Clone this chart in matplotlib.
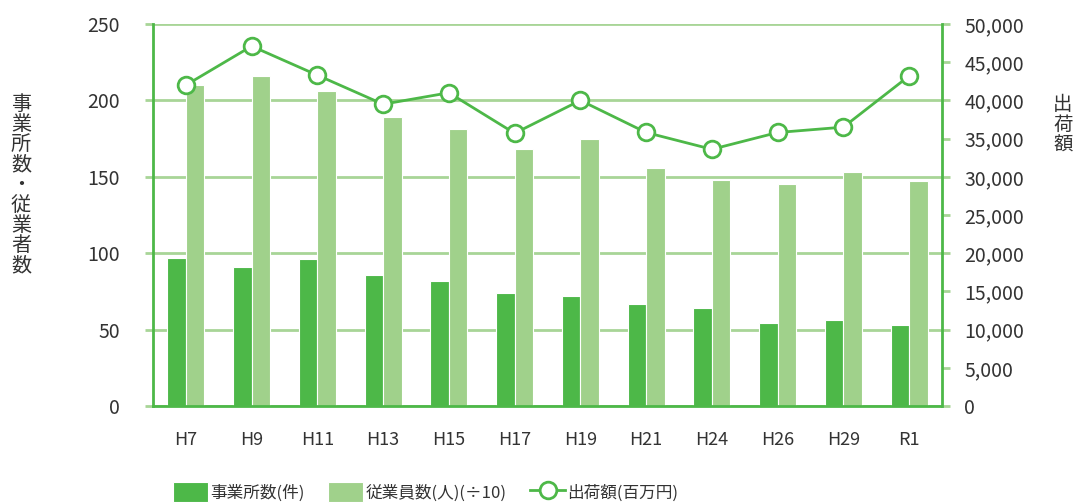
import matplotlib
matplotlib.use('Agg')
import matplotlib.pyplot as plt
import numpy as np
from matplotlib.ticker import FuncFormatter

plt.rcParams['font.family'] = ['Noto Sans CJK JP', 'DejaVu Sans']

years = ['H7', 'H9', 'H11', 'H13', 'H15', 'H17', 'H19', 'H21', 'H24', 'H26', 'H29', 'R1']
establishments = [97, 91, 96, 86, 82, 74, 72, 67, 64, 54, 56, 53]
employees_div10 = [210, 216, 206, 189, 181, 168, 175, 156, 148, 145, 153, 147]
shipments = [42000, 47100, 43300, 39500, 41000, 35700, 40000, 35800, 33600, 35800, 36500, 43200]

dark = '#4db848'
light = '#a0d18b'
grid_c = '#a8d597'
txt = '#333333'

fig = plt.figure(figsize=(10.74, 5.03), dpi=100)
ax = fig.add_axes([153 / 1074, 1 - 406 / 503, (942 - 153) / 1074, (406 - 24) / 503])
ax2 = ax.twinx()

x = np.arange(len(years))
w = 0.28
ax.bar(x - w / 2, establishments, w, color=dark, edgecolor='white', linewidth=0.8, zorder=2,
       label='事業所数(件)')
ax.bar(x + w / 2, employees_div10, w, color=light, edgecolor='white', linewidth=0.8, zorder=2,
       label='従業員数(人)(÷10)')
ax2.plot(x, shipments, color=dark, lw=2, marker='o', ms=12, mfc='white', mec=dark, mew=2,
         zorder=3, label='出荷額(百万円)')

ax.set_xlim(-0.5, len(years) - 0.5)
ax.set_ylim(0, 250)
ax2.set_ylim(0, 50000)
ax.set_yticks(range(0, 251, 50))
ax2.set_yticks(range(0, 50001, 5000))
ax2.yaxis.set_major_formatter(FuncFormatter(lambda v, p: f'{int(v):,}'))

ax.yaxis.grid(True, color=grid_c, lw=2, zorder=0)
ax.set_axisbelow(True)
ax.set_xticks(x)
ax.set_xticklabels(years)

for a in (ax, ax2):
    a.spines['top'].set_visible(False)
    for s in ('left', 'right', 'bottom'):
        a.spines[s].set_color(dark)
        a.spines[s].set_linewidth(2)
ax.spines['right'].set_visible(False)
ax2.spines['left'].set_visible(False)
ax2.spines['bottom'].set_visible(False)

ax.tick_params(axis='x', length=0, pad=18, labelsize=13, labelcolor=txt)
ax.tick_params(axis='y', length=6, width=2, color=grid_c, pad=18, labelsize=14, labelcolor=txt)
ax2.tick_params(axis='y', length=6, width=2, color=grid_c, pad=10, labelsize=14, labelcolor=txt)

ax.patch.set_visible(False)
ax2.set_zorder(ax.get_zorder() + 1)

fig.text(21 / 1074, 1 - 185 / 503, '\n'.join('事業所数・従業者数'), ha='center', va='center',
         fontsize=14.5, color=txt, linespacing=0.95)
fig.text(1063 / 1074, 1 - 125 / 503, '\n'.join('出荷額'), ha='center', va='center',
         fontsize=14, color=txt, linespacing=0.95)

h1, l1 = ax.get_legend_handles_labels()
h2, l2 = ax2.get_legend_handles_labels()
fig.legend(h1 + h2, l1 + l2, loc='center left', bbox_to_anchor=(173 / 1074, 1 - 492 / 503),
           ncol=3, frameon=False, fontsize=12, handlelength=2.1, handleheight=1.5,
           handletextpad=0.15, columnspacing=1.4, borderpad=0, borderaxespad=0,
           labelcolor=txt)

fig.savefig('out.png', dpi=100)
